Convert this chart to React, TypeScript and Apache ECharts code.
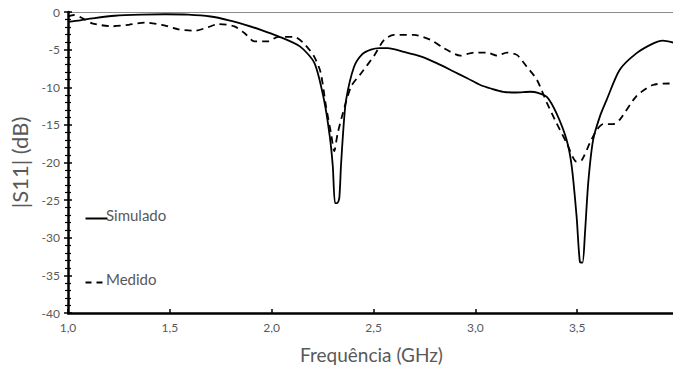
import React, { useEffect, useRef } from "react";
import * as echarts from "echarts";

const xTickLabels = ["1,0", "1,5", "2,0", "2,5", "3,0", "3,5"];

const simFreq = [1.0, 1.06, 1.12, 1.23, 1.36, 1.48, 1.59, 1.7, 1.79, 1.87, 1.95, 2.03, 2.14, 2.21, 2.257, 2.285, 2.3, 2.311, 2.322, 2.332, 2.34, 2.352, 2.365, 2.404, 2.445, 2.487, 2.53, 2.57, 2.65, 2.731, 2.81, 2.893, 2.96, 3.024, 3.08, 3.137, 3.2, 3.27, 3.303, 3.352, 3.399, 3.448, 3.473, 3.497, 3.513, 3.526, 3.538, 3.554, 3.578, 3.611, 3.644, 3.708, 3.79, 3.871, 3.92, 3.977];
const simDb = [-1.3, -1.1, -0.85, -0.5, -0.35, -0.3, -0.35, -0.6, -1.1, -1.7, -2.4, -3.2, -4.6, -6.8, -11.7, -16.5, -20.5, -25.4, -25.4, -24.7, -20.5, -15.5, -11.7, -7.3, -5.6, -5.0, -4.8, -4.8, -5.3, -5.9, -6.8, -7.9, -8.8, -9.7, -10.2, -10.6, -10.7, -10.6, -10.7, -11.3, -13.5, -17.0, -20.5, -27.2, -33.2, -33.3, -29.4, -22.7, -17.0, -13.9, -11.7, -7.7, -5.5, -4.2, -3.8, -4.1];

const medFreq = [1.0, 1.03, 1.069, 1.118, 1.216, 1.298, 1.379, 1.46, 1.542, 1.623, 1.689, 1.738, 1.817, 1.866, 1.915, 1.982, 2.031, 2.11, 2.159, 2.208, 2.24, 2.267, 2.291, 2.307, 2.324, 2.349, 2.39, 2.44, 2.503, 2.552, 2.6, 2.698, 2.78, 2.845, 2.926, 2.992, 3.057, 3.106, 3.155, 3.204, 3.253, 3.302, 3.35, 3.399, 3.448, 3.497, 3.522, 3.562, 3.595, 3.627, 3.676, 3.709, 3.79, 3.871, 3.953, 3.977];
const medDb = [-0.6, -0.4, -0.8, -1.5, -1.9, -1.7, -1.4, -1.7, -2.3, -2.5, -2.0, -1.6, -1.9, -2.8, -3.9, -3.9, -3.3, -3.3, -4.2, -5.9, -8.0, -12.6, -16.1, -18.5, -16.1, -13.5, -9.9, -8.1, -5.8, -3.7, -3.05, -3.05, -3.7, -4.8, -5.8, -5.4, -5.4, -5.8, -5.4, -5.7, -7.3, -9.0, -12.0, -14.8, -17.4, -19.9, -19.7, -17.4, -15.7, -14.9, -14.9, -14.3, -11.2, -9.7, -9.5, -9.5];

const legendNames = ["Simulado", "Medido"];

const FONT = "Lato";
const GRAY = "#595959";

export default function App() {
  const ref = useRef<HTMLDivElement>(null);
  useEffect(() => {
    if (!ref.current) return;
    const chart = echarts.init(ref.current, null, { renderer: "svg" });
    const zip = (a: number[], b: number[]) => a.map((v, i) => [v, b[i]]);
    const frameAxis = {
      type: "value",
      axisLine: { show: true, onZero: false, lineStyle: { color: "#8c8c8c", width: 1 } },
      axisTick: { show: false },
      axisLabel: { show: false },
      splitLine: { show: false },
    };
    chart.setOption({
      animation: false,
      textStyle: { fontFamily: FONT },
      grid: { left: 66, right: 6, top: 12, bottom: 63, show: false },
      graphic: [
        { type: "line", left: 83, top: 216, shape: { x1: 0, y1: 0, x2: 22, y2: 0 }, style: { stroke: "#000", lineWidth: 2 } },
        { type: "text", left: 106, top: 207, style: { text: legendNames[0], fill: GRAY, font: `15px ${FONT}` } },
        { type: "line", left: 83, top: 280, shape: { x1: 0, y1: 0, x2: 19, y2: 0 }, style: { stroke: "#000", lineWidth: 2, lineDash: [6, 5] } },
        { type: "text", left: 106, top: 271, style: { text: legendNames[1], fill: GRAY, font: `15px ${FONT}` } },
      ],
      xAxis: [
        {
          type: "value",
          min: 1,
          max: 3.98,
          interval: 0.5,
          name: "Frequência (GHz)",
          nameLocation: "middle",
          nameGap: 32,
          nameTextStyle: { color: GRAY, fontSize: 19, fontFamily: FONT },
          axisLine: { show: true, onZero: false, lineStyle: { color: "#000", width: 2.5 } },
          axisTick: { show: true, inside: true, length: 4, lineStyle: { color: "#000", width: 1.5 } },
          axisLabel: {
            color: GRAY,
            fontSize: 12,
            fontFamily: FONT,
            margin: 8,
            showMaxLabel: false,
            formatter: (v: number) => {
              const idx = Math.round((v - 1) / 0.5);
              return xTickLabels[idx] ?? "";
            },
          },
          splitLine: { show: false },
          z: 5,
        },
        { ...frameAxis, position: "top", min: 1, max: 3.98, z: 1 },
      ],
      yAxis: [
        {
          type: "value",
          min: -40,
          max: 0,
          interval: 5,
          name: "|S11| (dB)",
          nameLocation: "middle",
          nameGap: 38,
          nameRotate: 90,
          nameTextStyle: { color: GRAY, fontSize: 22, fontFamily: FONT },
          axisLine: { show: true, onZero: false, lineStyle: { color: "#000", width: 2.5 } },
          axisTick: { show: true, length: 4, lineStyle: { color: "#000", width: 1.5 } },
          minorTick: { show: true, splitNumber: 5, length: 3, lineStyle: { color: "#000", width: 1.2 } },
          axisLabel: { color: GRAY, fontSize: 12, fontFamily: FONT, margin: 8 },
          splitLine: { show: false },
          minorSplitLine: { show: false },
          z: 5,
        },
        {
          type: "value",
          min: -40,
          max: 0,
          interval: 5,
          position: "left",
          axisLine: { show: false, onZero: false },
          axisTick: { show: true, inside: true, length: 4, lineStyle: { color: "#000", width: 1.5 } },
          minorTick: { show: true, splitNumber: 5, length: 3, lineStyle: { color: "#000", width: 1.2 } },
          axisLabel: { show: false },
          splitLine: { show: false },
          z: 5,
        },
        { ...frameAxis, position: "right", min: -40, max: 0, z: 1 },
      ],
      series: [
        {
          name: legendNames[0],
          type: "line",
          data: zip(simFreq, simDb),
          showSymbol: false,
          symbol: "none",
          smooth: 0.25,
          lineStyle: { color: "#000", width: 1.8, type: "solid" },
          itemStyle: { color: "#000" },
        },
        {
          name: legendNames[1],
          type: "line",
          data: zip(medFreq, medDb),
          showSymbol: false,
          symbol: "none",
          smooth: 0.25,
          lineStyle: { color: "#000", width: 1.8, type: [7, 5] },
          itemStyle: { color: "#000" },
        },
      ],
    });
    return () => chart.dispose();
  }, []);
  return <div ref={ref} style={{ width: 681, height: 376, margin: -8 }} />;
}
